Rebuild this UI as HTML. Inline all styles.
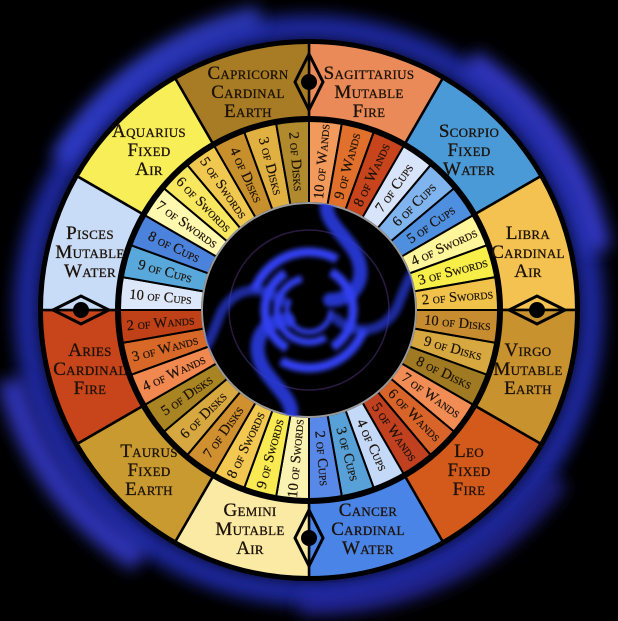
<!DOCTYPE html>
<html><head><meta charset="utf-8"><style>
html,body{margin:0;padding:0;background:#000;}
svg{display:block;}
.s{font-family:"Liberation Serif",serif;font-variant:small-caps;font-size:19px;fill:#1c1208;text-anchor:middle;letter-spacing:0.3px;stroke:#1c1208;stroke-width:0.3px;}
.c{font-family:"Liberation Serif",serif;font-variant:small-caps;font-size:14.5px;fill:#1c1208;text-anchor:middle;dominant-baseline:middle;stroke:#1c1208;stroke-width:0.2px;}
</style></head><body>
<svg width="618" height="621" viewBox="0 0 618 621" xmlns="http://www.w3.org/2000/svg">
<defs>
<filter id="b8" x="-30%" y="-30%" width="160%" height="160%"><feGaussianBlur stdDeviation="8"/></filter>
<filter id="b3" x="-30%" y="-30%" width="160%" height="160%"><feGaussianBlur stdDeviation="2.5"/></filter>
<path id="cw" d="M309 119 A191 191 0 0 1 342.17 121.9 L327.58 204.63 A107 107 0 0 0 309 203 Z"/>
<path id="sw" d="M309 42 A268 268 0 0 1 443 77.9 L404.5 144.59 A191 191 0 0 0 309 119 Z"/>
<g id="eye"><path d="M309 54 L323 82 L309 110 L295 82 Z" fill="none" stroke="#000" stroke-width="3"/><circle cx="309" cy="82" r="8" fill="#000"/></g>
<clipPath id="cc"><circle cx="309" cy="310" r="107"/></clipPath>
</defs>
<rect width="618" height="621" fill="#000"/>
<!-- glow -->
<circle cx="309" cy="310" r="282" fill="none" stroke="#2834d0" stroke-width="26" filter="url(#b8)" opacity="0.75"/>
<path d="M470 60 A290 290 0 0 1 600 250" fill="none" stroke="#3a40e0" stroke-width="24" filter="url(#b8)" opacity="0.8"/>
<path d="M140 560 A290 290 0 0 1 10 380" fill="none" stroke="#3a40e0" stroke-width="26" filter="url(#b8)" opacity="0.8"/>
<path d="M300 605 A300 300 0 0 0 560 480" fill="none" stroke="#3030c8" stroke-width="20" filter="url(#b8)" opacity="0.6"/>
<path d="M60 160 A300 300 0 0 1 260 16" fill="none" stroke="#3a48e8" stroke-width="22" filter="url(#b8)" opacity="0.7"/>
<circle cx="309" cy="310" r="271" fill="#000"/>
<!-- sign wedges -->
<g stroke="#000" stroke-width="2.5">
<use href="#sw" fill="#ea8a58" transform="rotate(0 309 310)"/>
<use href="#sw" fill="#4b9ad8" transform="rotate(30 309 310)"/>
<use href="#sw" fill="#f4c250" transform="rotate(60 309 310)"/>
<use href="#sw" fill="#c8922e" transform="rotate(90 309 310)"/>
<use href="#sw" fill="#d45a1c" transform="rotate(120 309 310)"/>
<use href="#sw" fill="#4a84e6" transform="rotate(150 309 310)"/>
<use href="#sw" fill="#fbeaa4" transform="rotate(180 309 310)"/>
<use href="#sw" fill="#c89a30" transform="rotate(210 309 310)"/>
<use href="#sw" fill="#c8441a" transform="rotate(240 309 310)"/>
<use href="#sw" fill="#c8dcf8" transform="rotate(270 309 310)"/>
<use href="#sw" fill="#f8ee58" transform="rotate(300 309 310)"/>
<use href="#sw" fill="#a87c24" transform="rotate(330 309 310)"/>
</g>
<!-- card wedges -->
<g stroke="#000" stroke-width="2">
<use href="#cw" fill="#f29a5c" transform="rotate(0 309 310)"/>
<use href="#cw" fill="#e0702c" transform="rotate(10 309 310)"/>
<use href="#cw" fill="#c8441c" transform="rotate(20 309 310)"/>
<use href="#cw" fill="#d8e4fa" transform="rotate(30 309 310)"/>
<use href="#cw" fill="#80b4ee" transform="rotate(40 309 310)"/>
<use href="#cw" fill="#4f8fe0" transform="rotate(50 309 310)"/>
<use href="#cw" fill="#fff59a" transform="rotate(60 309 310)"/>
<use href="#cw" fill="#f8ee48" transform="rotate(70 309 310)"/>
<use href="#cw" fill="#f0c24a" transform="rotate(80 309 310)"/>
<use href="#cw" fill="#c88c30" transform="rotate(90 309 310)"/>
<use href="#cw" fill="#d8a840" transform="rotate(100 309 310)"/>
<use href="#cw" fill="#a07a22" transform="rotate(110 309 310)"/>
<use href="#cw" fill="#f08c54" transform="rotate(120 309 310)"/>
<use href="#cw" fill="#d8642a" transform="rotate(130 309 310)"/>
<use href="#cw" fill="#c04020" transform="rotate(140 309 310)"/>
<use href="#cw" fill="#c4d8f8" transform="rotate(150 309 310)"/>
<use href="#cw" fill="#58a0d8" transform="rotate(160 309 310)"/>
<use href="#cw" fill="#5888e8" transform="rotate(170 309 310)"/>
<use href="#cw" fill="#faf2b0" transform="rotate(180 309 310)"/>
<use href="#cw" fill="#f8ea50" transform="rotate(190 309 310)"/>
<use href="#cw" fill="#f2c850" transform="rotate(200 309 310)"/>
<use href="#cw" fill="#d09030" transform="rotate(210 309 310)"/>
<use href="#cw" fill="#d8a840" transform="rotate(220 309 310)"/>
<use href="#cw" fill="#a88422" transform="rotate(230 309 310)"/>
<use href="#cw" fill="#f08850" transform="rotate(240 309 310)"/>
<use href="#cw" fill="#d86828" transform="rotate(250 309 310)"/>
<use href="#cw" fill="#c04018" transform="rotate(260 309 310)"/>
<use href="#cw" fill="#dce8fa" transform="rotate(270 309 310)"/>
<use href="#cw" fill="#58a8dc" transform="rotate(280 309 310)"/>
<use href="#cw" fill="#4a82dc" transform="rotate(290 309 310)"/>
<use href="#cw" fill="#fff9b0" transform="rotate(300 309 310)"/>
<use href="#cw" fill="#f8e860" transform="rotate(310 309 310)"/>
<use href="#cw" fill="#f0c850" transform="rotate(320 309 310)"/>
<use href="#cw" fill="#c8902c" transform="rotate(330 309 310)"/>
<use href="#cw" fill="#e0b040" transform="rotate(340 309 310)"/>
<use href="#cw" fill="#b08a2c" transform="rotate(350 309 310)"/>
</g>
<circle cx="309" cy="310" r="268" fill="none" stroke="#000" stroke-width="4"/>
<circle cx="309" cy="310" r="191" fill="none" stroke="#000" stroke-width="6"/>
<!-- center -->
<circle cx="309" cy="310" r="107" fill="#000" stroke="#999" stroke-width="2"/>
<g clip-path="url(#cc)">
<circle cx="309" cy="310" r="80" fill="none" stroke="#2a1a40" stroke-width="1.5"/>
<g fill="none" stroke="#2a3ae0" stroke-linecap="round" filter="url(#b3)">
<path d="M330 300 C360 300 370 270 350 245 C335 225 320 215 330 195" stroke-width="14" opacity="0.9"/>
<path d="M288 320 C258 320 248 350 268 375 C283 395 298 405 288 425" stroke-width="14" opacity="0.9"/>
<path d="M335 318 C360 340 390 330 400 300 C408 280 412 270 420 268" stroke-width="10" opacity="0.7"/>
<path d="M283 302 C258 280 228 290 218 320 C210 340 206 350 198 352" stroke-width="10" opacity="0.7"/>
</g>
<g fill="none" stroke="#3040f0" filter="url(#b3)">
<circle cx="309" cy="310" r="22" stroke-width="5" stroke-dasharray="80 60"/>
<circle cx="309" cy="310" r="32" stroke-width="7" stroke-dasharray="110 90" transform="rotate(60 309 310)"/>
<circle cx="309" cy="310" r="44" stroke-width="9" stroke-dasharray="90 48" transform="rotate(120 309 310)"/>
<circle cx="309" cy="310" r="58" stroke-width="9" stroke-dasharray="100 82" transform="rotate(200 309 310)"/>
</g>
<circle cx="309" cy="310" r="14" fill="#000"/>
</g>
<!-- eyes -->
<use href="#eye"/>
<use href="#eye" transform="rotate(90 309 310)"/>
<use href="#eye" transform="rotate(180 309 310)"/>
<use href="#eye" transform="rotate(270 309 310)"/>
<!-- sign labels -->
<g class="s">
<text x="369" y="79">Sagittarius</text><text x="369" y="98">Mutable</text><text x="369" y="117">Fire</text>
<text x="469" y="137">Scorpio</text><text x="469" y="156">Fixed</text><text x="469" y="175">Water</text>
<text x="528" y="239">Libra</text><text x="528" y="258">Cardinal</text><text x="528" y="277">Air</text>
<text x="528" y="356">Virgo</text><text x="528" y="375">Mutable</text><text x="528" y="394">Earth</text>
<text x="469" y="457">Leo</text><text x="469" y="476">Fixed</text><text x="469" y="495">Fire</text>
<text x="368" y="516">Cancer</text><text x="368" y="535">Cardinal</text><text x="368" y="554">Water</text>
<text x="250" y="516">Gemini</text><text x="250" y="535">Mutable</text><text x="250" y="554">Air</text>
<text x="149" y="457">Taurus</text><text x="149" y="476">Fixed</text><text x="149" y="495">Earth</text>
<text x="90" y="356">Aries</text><text x="90" y="375">Cardinal</text><text x="90" y="394">Fire</text>
<text x="90" y="239">Pisces</text><text x="90" y="258">Mutable</text><text x="90" y="277">Water</text>
<text x="149" y="137">Aquarius</text><text x="149" y="156">Fixed</text><text x="149" y="175">Air</text>
<text x="248" y="79">Capricorn</text><text x="248" y="98">Cardinal</text><text x="248" y="117">Earth</text>
</g>
<!-- card labels -->
<g class="c">
<text x="458" y="311" transform="rotate(-85 309 310)">10 of Wands</text>
<text x="458" y="311" transform="rotate(-75 309 310)">9 of Wands</text>
<text x="458" y="311" transform="rotate(-65 309 310)">8 of Wands</text>
<text x="458" y="311" transform="rotate(-55 309 310)">7 of Cups</text>
<text x="458" y="311" transform="rotate(-45 309 310)">6 of Cups</text>
<text x="458" y="311" transform="rotate(-35 309 310)">5 of Cups</text>
<text x="458" y="311" transform="rotate(-25 309 310)">4 of Swords</text>
<text x="458" y="311" transform="rotate(-15 309 310)">3 of Swords</text>
<text x="458" y="311" transform="rotate(-5 309 310)">2 of Swords</text>
<text x="458" y="311" transform="rotate(5 309 310)">10 of Disks</text>
<text x="458" y="311" transform="rotate(15 309 310)">9 of Disks</text>
<text x="458" y="311" transform="rotate(25 309 310)">8 of Disks</text>
<text x="458" y="311" transform="rotate(35 309 310)">7 of Wands</text>
<text x="458" y="311" transform="rotate(45 309 310)">6 of Wands</text>
<text x="458" y="311" transform="rotate(55 309 310)">5 of Wands</text>
<text x="458" y="311" transform="rotate(65 309 310)">4 of Cups</text>
<text x="458" y="311" transform="rotate(75 309 310)">3 of Cups</text>
<text x="458" y="311" transform="rotate(85 309 310)">2 of Cups</text>
<text x="160" y="311" transform="rotate(275 309 310)">10 of Swords</text>
<text x="160" y="311" transform="rotate(285 309 310)">9 of Swords</text>
<text x="160" y="311" transform="rotate(295 309 310)">8 of Swords</text>
<text x="160" y="311" transform="rotate(305 309 310)">7 of Disks</text>
<text x="160" y="311" transform="rotate(315 309 310)">6 of Disks</text>
<text x="160" y="311" transform="rotate(325 309 310)">5 of Disks</text>
<text x="160" y="311" transform="rotate(335 309 310)">4 of Wands</text>
<text x="160" y="311" transform="rotate(345 309 310)">3 of Wands</text>
<text x="160" y="311" transform="rotate(355 309 310)">2 of Wands</text>
<text x="160" y="311" transform="rotate(5 309 310)">10 of Cups</text>
<text x="160" y="311" transform="rotate(15 309 310)">9 of Cups</text>
<text x="160" y="311" transform="rotate(25 309 310)">8 of Cups</text>
<text x="160" y="311" transform="rotate(35 309 310)">7 of Swords</text>
<text x="160" y="311" transform="rotate(45 309 310)">6 of Swords</text>
<text x="160" y="311" transform="rotate(55 309 310)">5 of Swords</text>
<text x="160" y="311" transform="rotate(65 309 310)">4 of Disks</text>
<text x="160" y="311" transform="rotate(75 309 310)">3 of Disks</text>
<text x="160" y="311" transform="rotate(85 309 310)">2 of Disks</text>
</g>
</svg>
</body></html>
